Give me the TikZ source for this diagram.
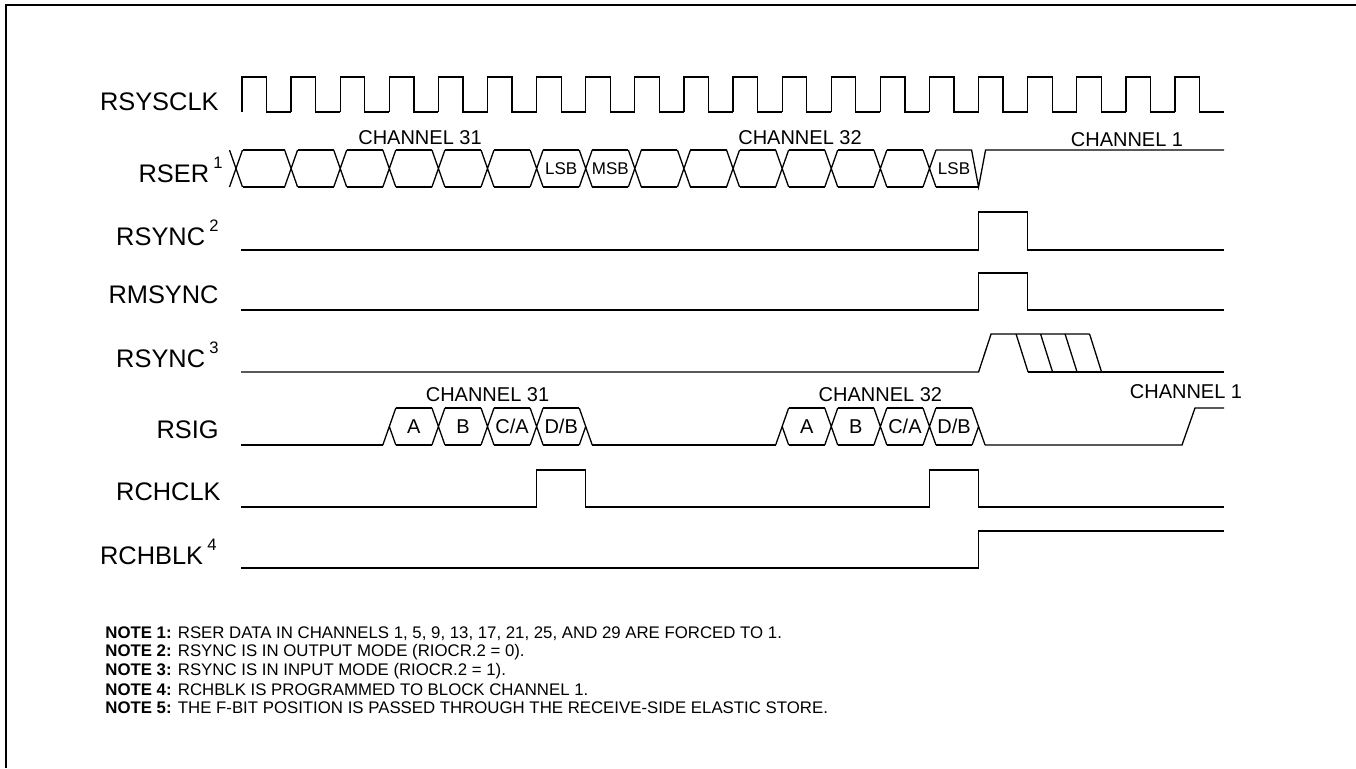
\documentclass[tikz,border=0pt]{standalone}
\usepackage{fontspec}
\setmainfont{Liberation Sans}
\usetikzlibrary{positioning}
\tikzstyle{wave} = [draw, line width=0.65pt, line join=miter]
\tikzstyle{signame} = [anchor=east, inner sep=0pt, font=\fontsize{12.7}{15}\selectfont]
\tikzstyle{chan} = [inner sep=0pt, font=\fontsize{10}{12}\selectfont]
\tikzstyle{bitlbl} = [inner sep=0pt, font=\fontsize{8.5}{10}\selectfont]
\tikzstyle{siglbl} = [inner sep=0pt, font=\fontsize{10}{12}\selectfont]
\tikzstyle{note} = [anchor=west, inner sep=0pt, font=\fontsize{8.4}{10}\selectfont]
\newcommand{\noteref}[1]{\,\raisebox{6.8pt}{\fontsize{8.3}{8.3}\selectfont #1}}

\begin{document}
\begin{tikzpicture}[x=0.5pt, y=-0.5pt, declare function={rx(\k)=242+49.105*\k;}]
  \useasboundingbox (0,0) rectangle (1356,768);
  \draw [line width=1pt] (1356,5) -- (6,5) -- (6,768);

  \node [signame] (sysclk) at (219,102) {RSYSCLK};
  \node [signame] (ser) at (223,170) {RSER\noteref{1}};
  \node [signame] (sync) at (219,233) {RSYNC\noteref{2}};
  \node [signame] (msync) at (219,295) {RMSYNC};
  \node [signame] (syncin) at (219,355) {RSYNC\noteref{3}};
  \node [signame] (sig) at (219,430) {RSIG};
  \node [signame] (chclk) at (221,492) {RCHCLK};
  \node [signame] (chblk) at (217,552) {RCHBLK\noteref{4}};

  \foreach \i in {0,...,19}
    \draw [wave] ({rx(\i)},112) -- ({rx(\i)},77) -- ({rx(\i+0.5)},77) -- ({rx(\i+0.5)},112) -- ({rx(\i+1)},112);

  \draw [wave] (229.5,150) -- (242.5,187) (229.5,187) -- (242.5,150);
  \draw [wave] (242.5,150) -- ({rx(1)-6.5},150) (242.5,187) -- ({rx(1)-6.5},187);
  \foreach \i in {1,...,14}
    \draw [wave] ({rx(\i)-6.5},150) -- ({rx(\i)+6.5},187) ({rx(\i)-6.5},187) -- ({rx(\i)+6.5},150);
  \foreach \i in {1,...,13}
    \draw [wave] ({rx(\i)+6.5},150) -- ({rx(\i+1)-6.5},150) ({rx(\i)+6.5},187) -- ({rx(\i+1)-6.5},187);
  \draw [wave] ({rx(14)+6.5},150) -- ({rx(15)-7},150) -- ({rx(15)},187) -- ({rx(15)+7},150) -- (1224,150);
  \draw [wave] ({rx(14)+6.5},187) -- ({rx(15)},187);
  \node [bitlbl] (lsb1) at ({rx(6.5)},168.5) {LSB};
  \node [bitlbl] (msb) at ({rx(7.5)},168.5) {MSB};
  \node [bitlbl] (lsb2) at ({rx(14.5)},168.5) {LSB};
  \node [chan] (serch31) at (420,138) {CHANNEL 31};
  \node [chan] (serch32) at (800,138) {CHANNEL 32};
  \node [chan] (serch1) at (1127,140) {CHANNEL 1};

  \draw [wave] (241,250) -- ({rx(15)},250) -- ({rx(15)},212) -- ({rx(16)},212) -- ({rx(16)},250) -- (1224,250);
  \draw [wave] (241,310) -- ({rx(15)},310) -- ({rx(15)},273) -- ({rx(16)},273) -- ({rx(16)},310) -- (1224,310);

  \draw [wave] (241,372) -- ({rx(15)},372) -- ({rx(15)+12.5},334) -- ({rx(15)+111},334);
  \foreach \k in {0,...,3}
    \draw [wave] ({rx(15)+37.5+24.5*\k},334) -- ({rx(15)+49.5+24.5*\k},372);
  \draw [wave] ({rx(15)+49.5},372) -- (1224,372);

  \draw [wave] (241,445) -- ({rx(3)-6.5},445);
  \draw [wave] ({rx(7)+6.5},445) -- ({rx(11)-6.5},445);
  \draw [wave] ({rx(15)+6.5},445) -- (1182,445) -- (1195,408) -- (1224,408);
  \foreach \s in {3,11} {
    \draw [wave] ({rx(\s)-6.5},445) -- ({rx(\s)+6.5},408) ({rx(\s)},426.5) -- ({rx(\s)+6.5},445);
    \draw [wave] ({rx(\s+4)-6.5},408) -- ({rx(\s+4)+6.5},445) ({rx(\s+4)-6.5},445) -- ({rx(\s+4)},426.5);
    \foreach \k in {1,2,3}
      \draw [wave] ({rx(\s+\k)-6.5},408) -- ({rx(\s+\k)+6.5},445) ({rx(\s+\k)-6.5},445) -- ({rx(\s+\k)+6.5},408);
    \foreach \k in {0,...,3}
      \draw [wave] ({rx(\s+\k)+6.5},408) -- ({rx(\s+\k+1)-6.5},408) ({rx(\s+\k)+6.5},445) -- ({rx(\s+\k+1)-6.5},445);
    \foreach \k/\t in {0/A,1/B,2/C\slash A,3/D\slash B}
      \node [siglbl] (sig\s-\k) at ({rx(\s+\k+0.5)},426.5) {\t};
  }
  \node [chan] (sigch31) at ({rx(5)},395) {CHANNEL 31};
  \node [chan] (sigch32) at ({rx(13)},395) {CHANNEL 32};
  \node [chan] (sigch1) at (1186,392) {CHANNEL 1};

  \draw [wave] (241,507) -- ({rx(6)},507) -- ({rx(6)},470) -- ({rx(7)},470) -- ({rx(7)},507) -- ({rx(14)},507) -- ({rx(14)},470) -- ({rx(15)},470) -- ({rx(15)},507) -- (1224,507);
  \draw [wave] (241,568) -- ({rx(15)},568) -- ({rx(15)},531) -- (1224,531);

  \node [note] (note1) at (105,634) {\textbf{NOTE 1:} RSER DATA IN CHANNELS 1, 5, 9, 13, 17, 21, 25, AND 29 ARE FORCED TO 1.};
  \node [note] (note2) at (105,652.5) {\textbf{NOTE 2:} RSYNC IS IN OUTPUT MODE (RIOCR.2 = 0).};
  \node [note] (note3) at (105,671) {\textbf{NOTE 3:} RSYNC IS IN INPUT MODE (RIOCR.2 = 1).};
  \node [note] (note4) at (105,689.5) {\textbf{NOTE 4:} RCHBLK IS PROGRAMMED TO BLOCK CHANNEL 1.};
  \node [note] (note5) at (105,708) {\textbf{NOTE 5:} THE F-BIT POSITION IS PASSED THROUGH THE RECEIVE-SIDE ELASTIC STORE.};
\end{tikzpicture}
\end{document}
